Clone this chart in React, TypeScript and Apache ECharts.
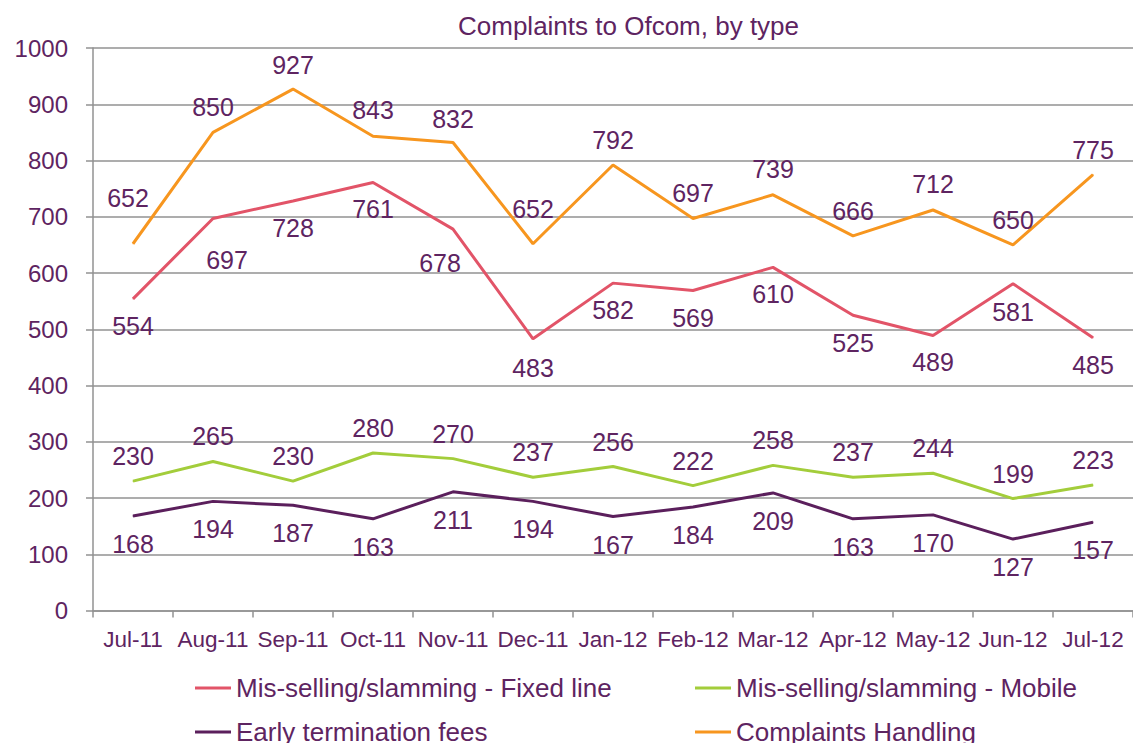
import React, { useEffect, useRef } from "react";
import * as echarts from "echarts";

const months = [
  "Jul-11", "Aug-11", "Sep-11", "Oct-11", "Nov-11", "Dec-11", "Jan-12",
  "Feb-12", "Mar-12", "Apr-12", "May-12", "Jun-12", "Jul-12",
];

const fixedLine = [554, 697, 728, 761, 678, 483, 582, 569, 610, 525, 489, 581, 485];
const mobile = [230, 265, 230, 280, 270, 237, 256, 222, 258, 237, 244, 199, 223];
const earlyTermination = [168, 194, 187, 163, 211, 194, 167, 184, 209, 163, 170, 127, 157];
const complaintsHandling = [652, 850, 927, 843, 832, 652, 792, 697, 739, 666, 712, 650, 775];

const seriesNames = [
  "Mis-selling/slamming - Fixed line",
  "Mis-selling/slamming - Mobile",
  "Early termination fees",
  "Complaints Handling",
];

// label centre offsets relative to each point (styling only)
const fixedLineLabelOffsets = [
  [0, 27], [14, 42], [0, 27], [0, 27], [-13, 34], [0, 29], [0, 27],
  [0, 28], [0, 27], [0, 28], [0, 27], [0, 28], [0, 27],
];
const mobileLabelOffsets = months.map(() => [0, -25]);
const earlyTerminationLabelOffsets = months.map(() => [0, 28]);
const complaintsLabelOffsets = [
  [-5, -46], [0, -25], [0, -24], [0, -26], [0, -24], [0, -35], [0, -25],
  [0, -25], [0, -26], [0, -25], [0, -26], [0, -25], [0, -25],
];

const TEXT = "#5E2461";
const FONT = 'Arial, "Liberation Sans", sans-serif';
const GRID_COLOR = "#929292";

function makeSeries(name: string, values: number[], color: string, offsets: number[][], z: number) {
  return {
    type: "line",
    name,
    color,
    z,
    data: values.map((v, i) => ({ value: v, label: { offset: offsets[i] } })),
    lineStyle: { width: 3, color },
    itemStyle: { color },
    symbol: "circle",
    symbolSize: 1,
    showSymbol: true,
    label: {
      show: true,
      position: "inside",
      color: TEXT,
      fontSize: 25,
      fontFamily: FONT,
    },
    emphasis: { disabled: true },
  };
}

export default function App() {
  const ref = useRef<HTMLDivElement>(null);

  useEffect(() => {
    document.body.style.margin = "0";
    const chart = echarts.init(ref.current!, null, { renderer: "svg" });
    const legendCommon = {
      icon: "rect",
      itemWidth: 36,
      itemHeight: 3,
      padding: 0,
      textStyle: { fontSize: 26, color: TEXT, fontFamily: FONT },
    };
    chart.setOption({
      animation: false,
      backgroundColor: "#ffffff",
      title: {
        text: "Complaints to Ofcom, by type",
        left: 458,
        top: 13,
        padding: 0,
        textStyle: { fontSize: 26, fontWeight: "normal", color: TEXT, fontFamily: FONT },
      },
      legend: [
        { ...legendCommon, data: [seriesNames[0]], left: 195, top: 675 },
        { ...legendCommon, data: [seriesNames[1]], left: 695, top: 675 },
        { ...legendCommon, data: [seriesNames[2]], left: 195, top: 719 },
        { ...legendCommon, data: [seriesNames[3]], left: 695, top: 719 },
      ],
      grid: { left: 93, right: -4, top: 48, bottom: 132.5, containLabel: false },
      xAxis: {
        type: "category",
        data: months,
        boundaryGap: true,
        axisLine: { show: true, lineStyle: { color: GRID_COLOR, width: 1.5 } },
        axisTick: { show: true, length: 7, lineStyle: { color: GRID_COLOR, width: 1.5 } },
        axisLabel: { fontSize: 22.5, color: TEXT, fontFamily: FONT, margin: 17, interval: 0 },
      },
      yAxis: {
        type: "value",
        min: 0,
        max: 1000,
        interval: 100,
        axisLine: { show: true, lineStyle: { color: GRID_COLOR, width: 1.5 } },
        axisTick: { show: true, length: 7, lineStyle: { color: GRID_COLOR, width: 1.5 } },
        splitLine: { show: true, lineStyle: { color: GRID_COLOR, width: 1.5 } },
        axisLabel: {
          fontSize: 24,
          color: TEXT,
          fontFamily: FONT,
          margin: 25,
          formatter: (v: number) => String(v),
        },
      },
      series: [
        makeSeries(seriesNames[0], fixedLine, "#E25468", fixedLineLabelOffsets, 3),
        makeSeries(seriesNames[1], mobile, "#A3CD3B", mobileLabelOffsets, 2),
        makeSeries(seriesNames[2], earlyTermination, "#5B1F5C", earlyTerminationLabelOffsets, 2),
        makeSeries(seriesNames[3], complaintsHandling, "#F7961F", complaintsLabelOffsets, 4),
      ],
    });
    return () => chart.dispose();
  }, []);

  return <div ref={ref} style={{ width: 1133, height: 743 }} />;
}
